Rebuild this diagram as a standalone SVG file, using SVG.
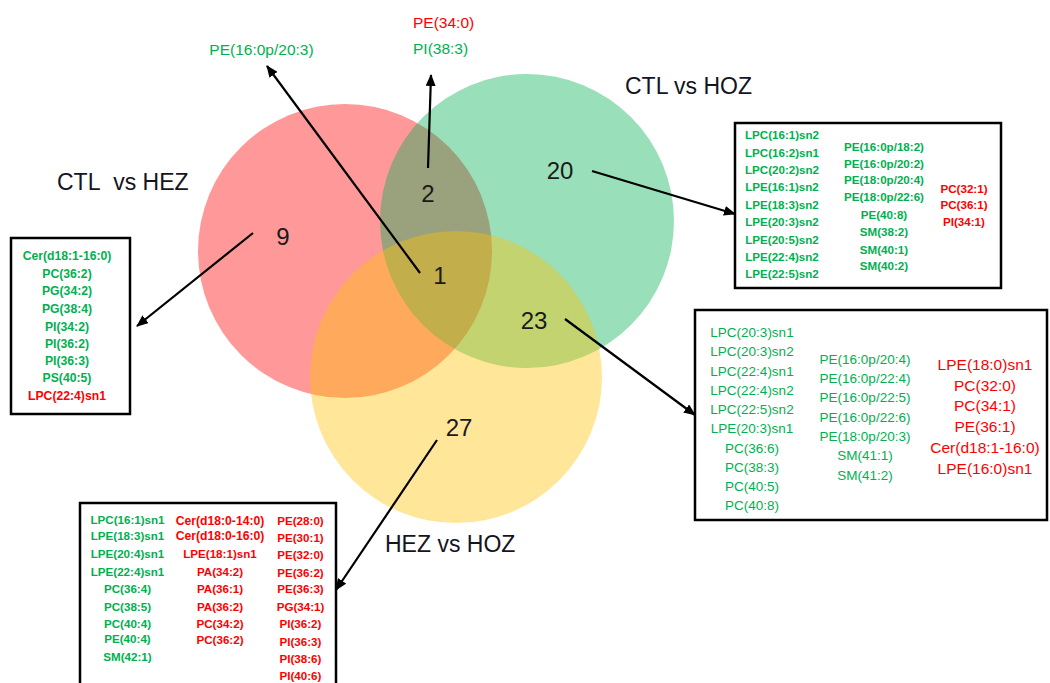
<svg xmlns="http://www.w3.org/2000/svg" width="1050" height="683" viewBox="0 0 1050 683">
<defs>
<marker id="ah" markerUnits="userSpaceOnUse" markerWidth="12" markerHeight="10" refX="11" refY="5" orient="auto">
<path d="M0,0 L12,5 L0,10 z" fill="#000"/>
</marker>
<style>
.g{fill:#00B050}
.r{fill:#FF0000}
.sb{font-family:"Liberation Sans",Arial,sans-serif;font-weight:bold;font-size:11.6px;text-anchor:middle;dominant-baseline:central}
.sbl{font-size:12.2px}
.sm{font-family:"Liberation Sans",Arial,sans-serif;font-size:13.5px;text-anchor:middle;dominant-baseline:central}
.sl{font-family:"Liberation Sans",Arial,sans-serif;font-size:15.5px;text-anchor:middle;dominant-baseline:central}
.num{font-family:"Liberation Sans",Arial,sans-serif;font-size:24px;fill:#1a1a1a;text-anchor:middle;dominant-baseline:central}
.lab{font-family:"Liberation Sans",Arial,sans-serif;font-size:23px;fill:#141422;dominant-baseline:central}
.box{fill:#fff;stroke:#000;stroke-width:2.5}
.ar{stroke:#000;stroke-width:2.2;fill:none;marker-end:url(#ah)}
</style>
</defs>
<rect width="1050" height="683" fill="#fff"/>
<g id="venn">
<circle id="c-hez" cx="345" cy="251" r="147" fill="#FF0000" fill-opacity="0.4"/>
<circle id="c-hoz" cx="527" cy="221" r="147" fill="#00B050" fill-opacity="0.4"/>
<circle id="c-hezhoz" cx="456" cy="377" r="146" fill="#FFC000" fill-opacity="0.4"/>
</g>
<g id="set-labels">
<text class="lab" x="57" y="182">CTL&#160; vs HEZ</text>
<text class="lab" x="625" y="86">CTL vs HOZ</text>
<text class="lab" x="385" y="544">HEZ vs HOZ</text>
</g>
<g id="counts">
<text class="num" x="283" y="236">9</text>
<text class="num" x="428" y="193">2</text>
<text class="num" x="560" y="170">20</text>
<text class="num" x="440" y="275">1</text>
<text class="num" x="534" y="320">23</text>
<text class="num" x="459" y="427">27</text>
</g>
<g id="connectors">
<line class="ar" x1="420" y1="273" x2="267" y2="66"/>
<line class="ar" x1="428" y1="168" x2="431" y2="75"/>
<line class="ar" x1="592" y1="171" x2="735" y2="214"/>
<line class="ar" x1="253" y1="233" x2="137" y2="326"/>
<line class="ar" x1="565" y1="319" x2="695" y2="415"/>
<line class="ar" x1="437" y1="440" x2="336" y2="590"/>
</g>
<g id="label-top1">
<text class="sl g" x="261.5" y="49">PE(16:0p/20:3)</text>
</g>
<g id="label-top2">
<text class="sl r" x="413" y="22" style="text-anchor:start">PE(34:0)</text>
<text class="sl g" x="413" y="48" style="text-anchor:start">PI(38:3)</text>
</g>
<g id="box-left">
<rect class="box" x="11" y="238" width="119" height="176"/>
<text class="sb sbl g" x="67" y="256">Cer(d18:1-16:0)</text>
<text class="sb sbl g" x="67" y="274">PC(36:2)</text>
<text class="sb sbl g" x="67" y="291">PG(34:2)</text>
<text class="sb sbl g" x="67" y="309">PG(38:4)</text>
<text class="sb sbl g" x="67" y="327">PI(34:2)</text>
<text class="sb sbl g" x="67" y="344">PI(36:2)</text>
<text class="sb sbl g" x="67" y="361">PI(36:3)</text>
<text class="sb sbl g" x="67" y="378">PS(40:5)</text>
<text class="sb sbl r" x="67" y="396">LPC(22:4)sn1</text>
</g>
<g id="box-topright">
<rect class="box" x="735" y="123" width="266" height="165"/>
<text class="sb g" x="782" y="134">LPC(16:1)sn2</text>
<text class="sb g" x="782" y="152.5">LPC(16:2)sn1</text>
<text class="sb g" x="782" y="169">LPC(20:2)sn2</text>
<text class="sb g" x="782" y="186">LPE(16:1)sn2</text>
<text class="sb g" x="782" y="204">LPE(18:3)sn2</text>
<text class="sb g" x="782" y="221">LPE(20:3)sn2</text>
<text class="sb g" x="782" y="239">LPE(20:5)sn2</text>
<text class="sb g" x="782" y="256">LPE(22:4)sn2</text>
<text class="sb g" x="782" y="273">LPE(22:5)sn2</text>
<text class="sb g" x="884" y="146.5">PE(16:0p/18:2)</text>
<text class="sb g" x="884" y="163">PE(16:0p/20:2)</text>
<text class="sb g" x="884" y="179">PE(18:0p/20:4)</text>
<text class="sb g" x="884" y="196.5">PE(18:0p/22:6)</text>
<text class="sb g" x="884" y="214">PE(40:8)</text>
<text class="sb g" x="884" y="231">SM(38:2)</text>
<text class="sb g" x="884" y="249">SM(40:1)</text>
<text class="sb g" x="884" y="265.5">SM(40:2)</text>
<text class="sb r" x="964" y="188">PC(32:1)</text>
<text class="sb r" x="964" y="204.5">PC(36:1)</text>
<text class="sb r" x="964" y="221">PI(34:1)</text>
</g>
<g id="box-midright">
<rect class="box" x="695" y="310" width="352" height="210"/>
<text class="sm g" x="752" y="332">LPC(20:3)sn1</text>
<text class="sm g" x="752" y="351.5">LPC(20:3)sn2</text>
<text class="sm g" x="752" y="371">LPC(22:4)sn1</text>
<text class="sm g" x="752" y="390">LPC(22:4)sn2</text>
<text class="sm g" x="752" y="409">LPC(22:5)sn2</text>
<text class="sm g" x="752" y="428.5">LPE(20:3)sn1</text>
<text class="sm g" x="752" y="448">PC(36:6)</text>
<text class="sm g" x="752" y="467">PC(38:3)</text>
<text class="sm g" x="752" y="486">PC(40:5)</text>
<text class="sm g" x="752" y="505">PC(40:8)</text>
<text class="sm g" x="865" y="359">PE(16:0p/20:4)</text>
<text class="sm g" x="865" y="378.5">PE(16:0p/22:4)</text>
<text class="sm g" x="865" y="397.5">PE(16:0p/22:5)</text>
<text class="sm g" x="865" y="417">PE(16:0p/22:6)</text>
<text class="sm g" x="865" y="436">PE(18:0p/20:3)</text>
<text class="sm g" x="865" y="455.5">SM(41:1)</text>
<text class="sm g" x="865" y="475">SM(41:2)</text>
<text class="sl r" x="985" y="364">LPE(18:0)sn1</text>
<text class="sl r" x="985" y="385">PC(32:0)</text>
<text class="sl r" x="985" y="405">PC(34:1)</text>
<text class="sl r" x="985" y="426">PE(36:1)</text>
<text class="sl r" x="985" y="447">Cer(d18:1-16:0)</text>
<text class="sl r" x="985" y="468">LPE(16:0)sn1</text>
</g>
<g id="box-bottom">
<rect class="box" x="80" y="503" width="256" height="200"/>
<text class="sb g" x="127.5" y="519">LPC(16:1)sn1</text>
<text class="sb g" x="127.5" y="535">LPE(18:3)sn1</text>
<text class="sb g" x="127.5" y="553">LPE(20:4)sn1</text>
<text class="sb g" x="127.5" y="571">LPE(22:4)sn1</text>
<text class="sb g" x="127.5" y="588">PC(36:4)</text>
<text class="sb g" x="127.5" y="606">PC(38:5)</text>
<text class="sb g" x="127.5" y="623">PC(40:4)</text>
<text class="sb g" x="127.5" y="638.5">PE(40:4)</text>
<text class="sb g" x="127.5" y="656">SM(42:1)</text>
<text class="sb sbl r" x="220" y="520.5">Cer(d18:0-14:0)</text>
<text class="sb sbl r" x="220" y="536">Cer(d18:0-16:0)</text>
<text class="sb r" x="220" y="553.5">LPE(18:1)sn1</text>
<text class="sb r" x="220" y="571.5">PA(34:2)</text>
<text class="sb r" x="220" y="588.5">PA(36:1)</text>
<text class="sb r" x="220" y="606">PA(36:2)</text>
<text class="sb r" x="220" y="623">PC(34:2)</text>
<text class="sb r" x="220" y="639.5">PC(36:2)</text>
<text class="sb r" x="300.5" y="520.5">PE(28:0)</text>
<text class="sb r" x="300.5" y="537">PE(30:1)</text>
<text class="sb r" x="300.5" y="554.5">PE(32:0)</text>
<text class="sb r" x="300.5" y="572">PE(36:2)</text>
<text class="sb r" x="300.5" y="588.5">PE(36:3)</text>
<text class="sb r" x="300.5" y="606.5">PG(34:1)</text>
<text class="sb r" x="300.5" y="623.5">PI(36:2)</text>
<text class="sb r" x="300.5" y="641">PI(36:3)</text>
<text class="sb r" x="300.5" y="658.5">PI(38:6)</text>
<text class="sb r" x="300.5" y="675">PI(40:6)</text>
</g>
</svg>
